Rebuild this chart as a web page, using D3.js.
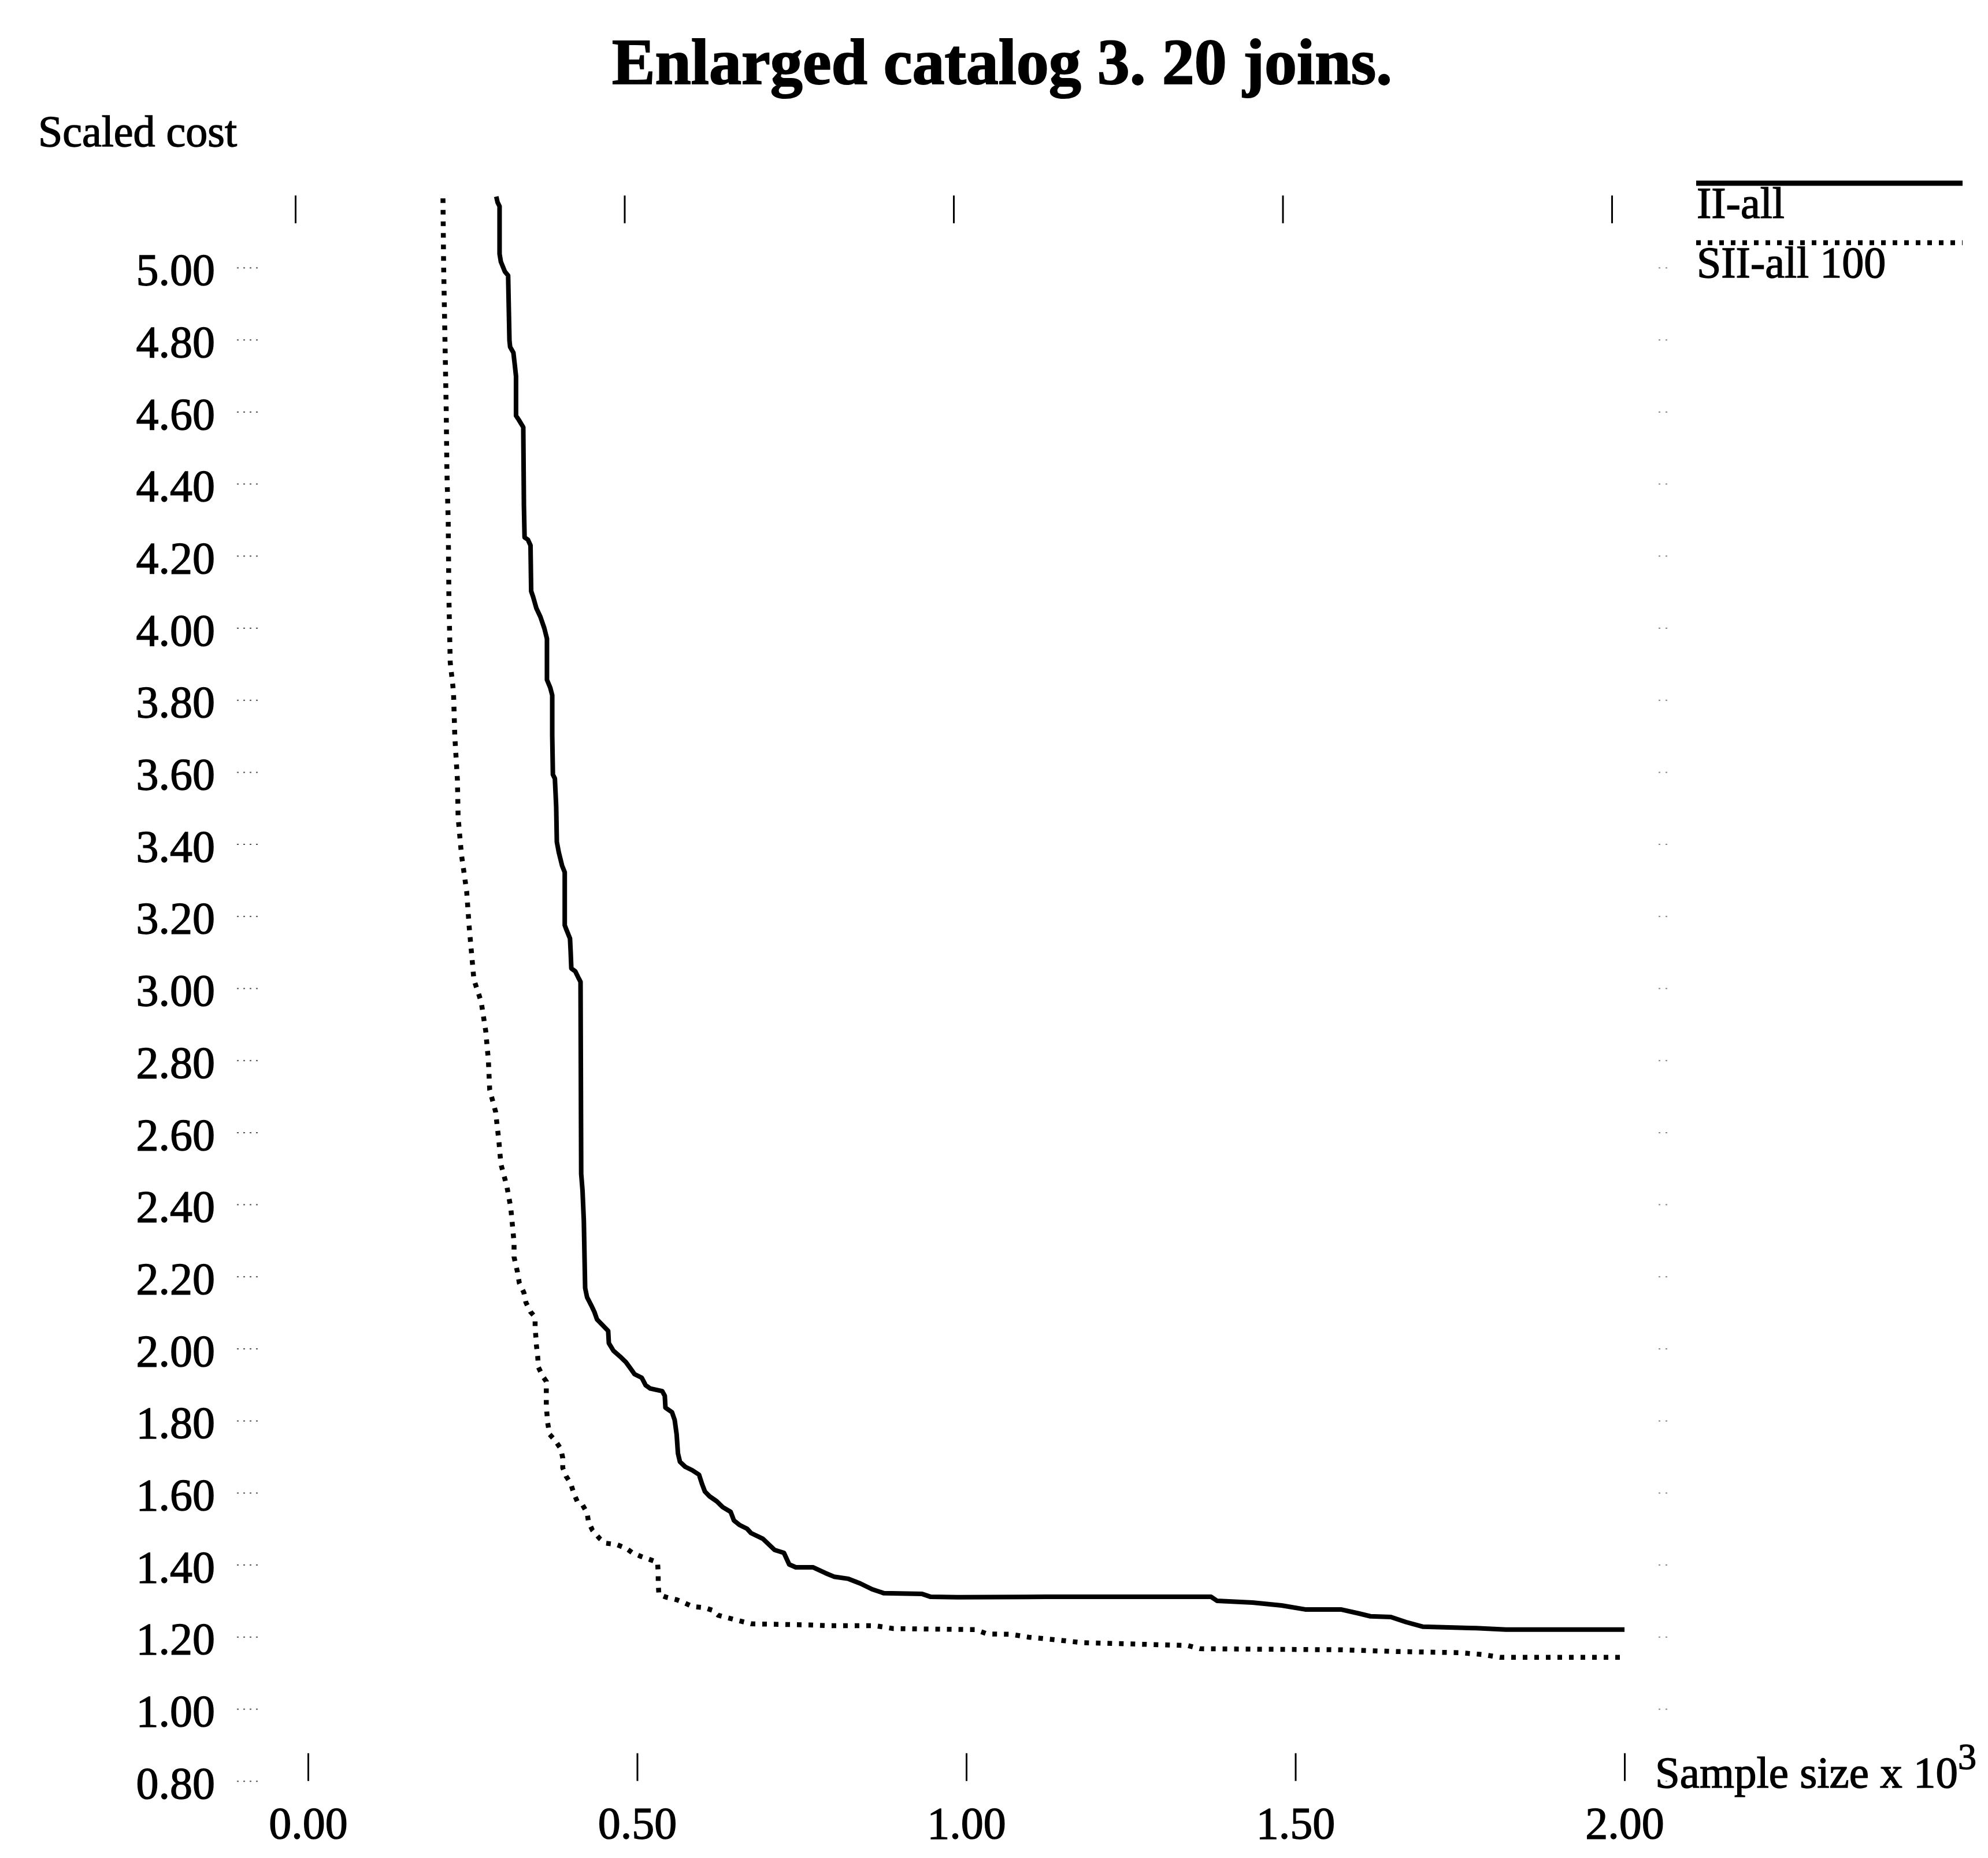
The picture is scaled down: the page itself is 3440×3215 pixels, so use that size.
<!DOCTYPE html>
<html><head><meta charset="utf-8">
<script src="https://cdn.jsdelivr.net/npm/d3@7"></script>
<style>
html,body{margin:0;padding:0;background:#fff;}
svg{display:block;background:#fff;}
text{font-family:"Liberation Serif","Times New Roman",serif;fill:#000;stroke:#000;stroke-width:1.4px;}
</style>
</head><body>
<svg id="chart" width="3440" height="3215"></svg>
<script>
// ---------- data ----------
const chartTitle = "Enlarged catalog 3. 20 joins.";
const yAxisTitle = "Scaled cost";
const xAxisTitle = "Sample size x 10";
const xAxisTitleExp = "3";
const seriesNames = ["II-all", "SII-all 100"];
const xTickValues = [0.00, 0.50, 1.00, 1.50, 2.00];
const yTickValues = [0.80,1.00,1.20,1.40,1.60,1.80,2.00,2.20,2.40,2.60,2.80,3.00,3.20,3.40,3.60,3.80,4.00,4.20,4.40,4.60,4.80,5.00];

const iiAllSample = [0.286,0.288,0.291,0.291,0.293,0.299,0.304,0.306,0.307,0.312,0.314,0.316,0.316,0.320,0.327,0.328,0.329,0.334,0.338,0.339,0.342,0.347,0.353,0.359,0.363,0.363,0.368,0.371,0.371,0.372,0.375,0.377,0.378,0.381,0.386,0.390,0.390,0.392,0.398,0.399,0.400,0.406,0.410,0.414,0.415,0.417,0.419,0.421,0.424,0.430,0.435,0.439,0.449,0.456,0.457,0.464,0.474,0.483,0.491,0.496,0.507,0.513,0.520,0.538,0.542,0.543,0.553,0.557,0.560,0.562,0.565,0.573,0.584,0.594,0.599,0.603,0.610,0.621,0.630,0.642,0.647,0.656,0.667,0.673,0.691,0.709,0.723,0.731,0.741,0.767,0.786,0.799,0.821,0.839,0.857,0.875,0.933,0.946,0.987,1.121,1.372,1.381,1.435,1.479,1.515,1.569,1.596,1.614,1.645,1.668,1.694,1.775,1.820,2.000];
const iiAllCost = [5.197,5.181,5.170,5.038,5.016,4.989,4.978,4.798,4.780,4.764,4.732,4.698,4.589,4.578,4.557,4.338,4.251,4.245,4.229,4.102,4.086,4.054,4.031,3.999,3.970,3.856,3.834,3.813,3.702,3.593,3.582,3.505,3.406,3.377,3.340,3.322,3.175,3.165,3.138,3.101,3.055,3.047,3.032,3.018,2.485,2.439,2.355,2.168,2.142,2.121,2.102,2.081,2.062,2.049,2.015,1.994,1.978,1.962,1.942,1.929,1.919,1.898,1.889,1.882,1.869,1.836,1.823,1.802,1.762,1.709,1.686,1.672,1.662,1.650,1.622,1.603,1.590,1.576,1.560,1.547,1.523,1.510,1.500,1.488,1.472,1.441,1.433,1.401,1.393,1.393,1.377,1.367,1.361,1.348,1.332,1.321,1.319,1.311,1.310,1.311,1.311,1.300,1.295,1.287,1.276,1.276,1.265,1.257,1.255,1.241,1.228,1.224,1.220,1.220];

const siiAllSample = [0.205,0.206,0.208,0.210,0.211,0.213,0.214,0.216,0.221,0.223,0.227,0.228,0.233,0.241,0.245,0.252,0.263,0.270,0.274,0.276,0.285,0.290,0.293,0.302,0.308,0.313,0.313,0.318,0.321,0.328,0.331,0.338,0.345,0.345,0.347,0.349,0.350,0.357,0.362,0.362,0.364,0.367,0.375,0.384,0.387,0.387,0.392,0.399,0.404,0.409,0.417,0.424,0.426,0.432,0.443,0.452,0.469,0.483,0.493,0.506,0.520,0.531,0.532,0.532,0.533,0.544,0.560,0.572,0.584,0.602,0.614,0.623,0.637,0.673,0.763,0.790,0.861,0.889,1.014,1.032,1.068,1.095,1.140,1.175,1.336,1.355,1.569,1.659,1.748,1.784,1.811,2.000];
const siiAllCost = [5.192,5.008,4.804,4.599,4.435,4.293,4.087,3.905,3.823,3.699,3.577,3.475,3.372,3.269,3.167,3.024,2.963,2.881,2.800,2.718,2.657,2.575,2.512,2.451,2.391,2.294,2.254,2.214,2.182,2.155,2.128,2.102,2.087,2.062,2.009,1.976,1.948,1.922,1.909,1.842,1.795,1.762,1.746,1.722,1.696,1.669,1.646,1.626,1.597,1.576,1.566,1.544,1.520,1.496,1.473,1.460,1.456,1.446,1.433,1.423,1.414,1.407,1.377,1.350,1.318,1.310,1.303,1.294,1.284,1.281,1.274,1.260,1.253,1.236,1.233,1.231,1.231,1.223,1.220,1.208,1.207,1.199,1.191,1.184,1.176,1.167,1.164,1.159,1.156,1.151,1.143,1.143];

// ---------- layout ----------
const svg = d3.select("#chart");
const x = d3.scaleLinear().domain([0, 2]).range([533, 2811]);
const y = d3.scaleLinear().domain([0.8, 5.2]).range([3081.7, 338.3]);
const fmt = d3.format(".2f");

const solidStyle = {width: 8, dash: null};
const dotStyle = {width: 8.5, dash: "8,12"};

// title
svg.append("text").attr("x", 1734).attr("y", 145).attr("text-anchor", "middle")
  .style("font-size", "112px").style("font-weight", "bold").style("stroke-width", "2px").text(chartTitle);

// y axis title
svg.append("text").attr("x", 66).attr("y", 253).style("font-size", "76px").text(yAxisTitle);

// left axis (ticks + labels)
const gLeft = svg.append("g").attr("transform", "translate(410,0)")
  .call(d3.axisLeft(y).tickValues(yTickValues).tickFormat(fmt).tickSizeInner(-40).tickSizeOuter(0).tickPadding(38));
gLeft.select(".domain").remove();
gLeft.selectAll(".tick line").attr("stroke", "#555").attr("stroke-width", 2).attr("stroke-dasharray", "3,8");
gLeft.selectAll(".tick text").style("font-size", "78px").style("font-family", null).attr("dy", "0.38em");

// right axis ticks
const gRight = svg.append("g").attr("transform", "translate(2870,0)")
  .call(d3.axisRight(y).tickValues(yTickValues).tickFormat("").tickSizeInner(18).tickSizeOuter(0));
gRight.select(".domain").remove();
gRight.selectAll(".tick line").attr("stroke", "#888").attr("stroke-width", 2).attr("stroke-dasharray", "3,9");

// top axis ticks (scan skew offset)
const gTop = svg.append("g").attr("transform", `translate(-22,${y(5.2)})`)
  .call(d3.axisBottom(x).tickValues(xTickValues).tickFormat("").tickSizeInner(48).tickSizeOuter(0));
gTop.select(".domain").remove();
gTop.selectAll(".tick line").attr("stroke", "#000").attr("stroke-width", 3);

// bottom axis
const gBottom = svg.append("g").attr("transform", `translate(0,${y(0.8)})`)
  .call(d3.axisBottom(x).tickValues(xTickValues).tickFormat(fmt).tickSizeInner(-48).tickSizeOuter(0).tickPadding(44));
gBottom.select(".domain").remove();
gBottom.selectAll(".tick line").attr("stroke", "#000").attr("stroke-width", 3);
gBottom.selectAll(".tick text").style("font-size", "78px").style("font-family", null);

// x axis title
const xt = svg.append("text").attr("x", 2864).attr("y", 3093).style("font-size", "77px");
xt.append("tspan").text(xAxisTitle);
xt.append("tspan").attr("dy", -32).style("font-size", "64px").text(xAxisTitleExp);

// lines
const line = d3.line().x(d => x(d[0])).y(d => y(d[1]));
const iiData = iiAllSample.map((s, i) => [s, iiAllCost[i]]);
const siiData = siiAllSample.map((s, i) => [s, siiAllCost[i]]);

svg.append("path").datum(iiData).attr("d", line).attr("fill", "none")
  .attr("stroke", "#000").attr("stroke-width", solidStyle.width).attr("stroke-linejoin", "round");
svg.append("path").datum(siiData).attr("d", line).attr("fill", "none")
  .attr("stroke", "#000").attr("stroke-width", dotStyle.width).attr("stroke-dasharray", dotStyle.dash);

// legend
const legend = svg.append("g");
const legItems = [
  {name: seriesNames[0], ly: 317, ty: 377, st: {width: 9, dash: null}},
  {name: seriesNames[1], ly: 420, ty: 480, st: dotStyle}
];
legItems.forEach(it => {
  legend.append("line").attr("x1", 2935).attr("x2", 3396).attr("y1", it.ly).attr("y2", it.ly)
    .attr("stroke", "#000").attr("stroke-width", it.st.width)
    .attr("stroke-dasharray", it.st.dash);
  legend.append("text").attr("x", 2936).attr("y", it.ty).style("font-size", "76px").text(it.name);
});
</script>
</body></html>
